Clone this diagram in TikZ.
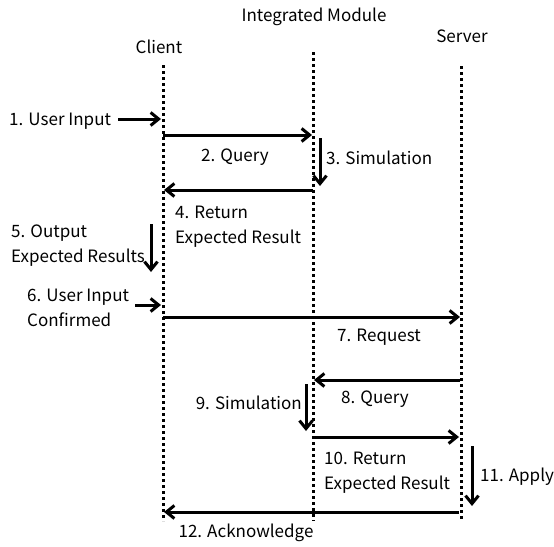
\documentclass[tikz,border=0pt]{standalone}
\usepackage{fontspec}
\setmainfont{Noto Sans CJK KR}
\usetikzlibrary{arrows.meta}
\begin{document}
\begin{tikzpicture}[x=1pt,y=-1pt,
  lifeline/.style={line width=3pt,dash pattern=on 3pt off 3pt},
  msg/.style={line width=3pt,-{Straight Barb[length=8pt,width=13pt,line width=3pt]}},
  lbl/.style={font=\fontsize{17}{25}\selectfont,inner sep=0pt,align=left},
  title/.style={font=\fontsize{17}{20}\selectfont,inner sep=0pt}]
\useasboundingbox (0,0) rectangle (554,546);
% participants
\node[title] (tc) at (159,47) {Client};
\node[title] (ti) at (314,17) {Integrated Module};
\node[title] (ts) at (462,36) {Server};
% lifelines
\coordinate (ca) at (163,65);  \coordinate (cb) at (163,521);
\coordinate (ia) at (313,52);  \coordinate (ib) at (313,521);
\coordinate (sa) at (461,66);  \coordinate (sb) at (461,521);
\draw[lifeline] (ca) -- (cb);
\draw[lifeline] (ia) -- (ib);
\draw[lifeline] (sa) -- (sb);
% 1. user input
\node[lbl,anchor=west] (l1) at (9,121) {1. User Input};
\coordinate (u1) at (118,119); \coordinate (c1) at (161,119);
\draw[msg] (u1) -- (c1);
% 2. query
\coordinate (c2) at (163,135); \coordinate (i2) at (312,135);
\draw[msg] (c2) -- (i2);
\node[lbl] (l2) at (235,157) {2. Query};
% 3. simulation
\coordinate (s3a) at (320,138); \coordinate (s3b) at (320,186);
\draw[msg] (s3a) -- (s3b);
\node[lbl,anchor=west] (l3) at (326,158) {3. Simulation};
% 4. return
\coordinate (i4) at (313,190); \coordinate (c4) at (164,190);
\draw[msg] (i4) -- (c4);
\node[lbl,anchor=north west] (l4) at (175,206) {4. Return\\Expected Result};
% 5. output
\coordinate (o5a) at (151,224); \coordinate (o5b) at (151,272);
\draw[msg] (o5a) -- (o5b);
\node[lbl,anchor=north east] (l5) at (145,225) {5. Output\\Expected Results};
% 6. user input confirmed
\coordinate (u6) at (135,305); \coordinate (c6) at (161,305);
\draw[msg] (u6) -- (c6);
\node[lbl,anchor=north west] (l6) at (27,289) {6. User Input\\Confirmed};
% 7. request
\coordinate (c7) at (163,317); \coordinate (s7) at (460,317);
\draw[msg] (c7) -- (s7);
\node[lbl] (l7) at (379,337) {7. Request};
% 8. query
\coordinate (s8) at (460,380); \coordinate (i8) at (314,380);
\draw[msg] (s8) -- (i8);
\node[lbl] (l8) at (375,399) {8. Query};
% 9. simulation
\coordinate (s9a) at (306,384); \coordinate (s9b) at (306,431);
\draw[msg] (s9a) -- (s9b);
\node[lbl,anchor=east] (l9) at (302,403) {9. Simulation};
% 10. return
\coordinate (i10) at (313,437); \coordinate (s10) at (459,437);
\draw[msg] (i10) -- (s10);
\node[lbl,anchor=north west] (l10) at (324,452) {10. Return\\Expected Result};
% 11. apply
\coordinate (a11a) at (472,446); \coordinate (a11b) at (472,506);
\draw[msg] (a11a) -- (a11b);
\node[lbl,anchor=west] (l11) at (480,477) {11. Apply};
% 12. acknowledge
\coordinate (s12) at (459,512); \coordinate (c12) at (164,512);
\draw[msg] (s12) -- (c12);
\node[lbl] (l12) at (246,533) {12. Acknowledge};
\end{tikzpicture}
\end{document}
